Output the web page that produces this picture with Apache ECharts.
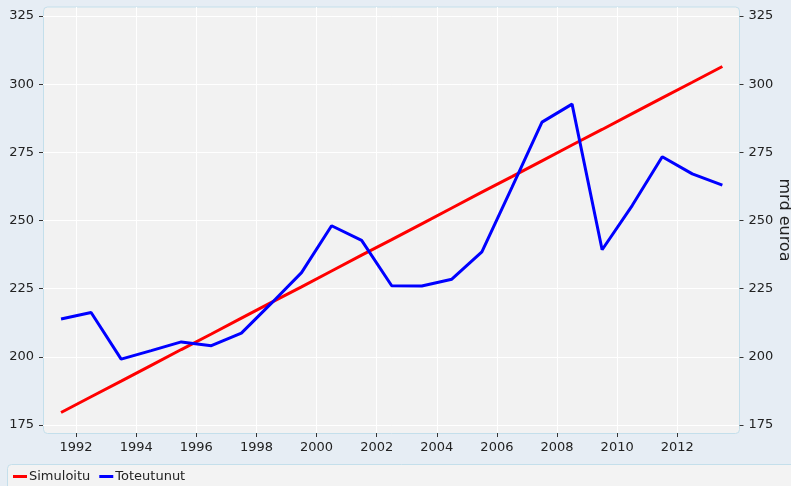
<!DOCTYPE html>
<html>
<head>
<meta charset="utf-8">
<script src="https://cdn.jsdelivr.net/npm/echarts@6/dist/echarts.min.js"></script>
<style>
  html, body { margin: 0; padding: 0; background: #e6edf4; }
  #chart { width: 791px; height: 486px; }
</style>
</head>
<body>
<div id="chart"></div>
<script>
// years are plotted mid-year
const years = [1991.5, 1992.5, 1993.5, 1994.5, 1995.5, 1996.5, 1997.5, 1998.5, 1999.5, 2000.5,
  2001.5, 2002.5, 2003.5, 2004.5, 2005.5, 2006.5, 2007.5, 2008.5, 2009.5, 2010.5,
  2011.5, 2012.5, 2013.5];
const simuloitu = [179.6, 185.4, 191.1, 196.9, 202.7, 208.4, 214.2, 220.0, 225.7, 231.5,
  237.3, 243.0, 248.8, 254.6, 260.4, 266.1, 271.9, 277.7, 283.4, 289.2,
  295.0, 300.7, 306.5];
const toteutunut = [213.9, 216.3, 199.2, 202.3, 205.5, 204.1, 208.7, 219.7, 230.9, 248.1,
  242.7, 226.1, 226.0, 228.5, 238.5, 262.2, 286.1, 292.7, 239.3, 255.5,
  273.4, 267.1, 263.0];
const xTicks = [1992, 1994, 1996, 1998, 2000, 2002, 2004, 2006, 2008, 2010, 2012];
const yTicks = [175, 200, 225, 250, 275, 300, 325];

const font = 'DejaVu Sans';
const myChart = echarts.init(document.getElementById('chart'));

const pair = (xs, ys) => xs.map((x, i) => [x, ys[i]]);

const yAxisBase = {
  type: 'value',
  min: 172.1,
  max: 328.3,
  axisLine: { show: false },
  axisTick: { show: true, length: 4, customValues: yTicks, lineStyle: { color: '#333' } },
  axisLabel: { customValues: yTicks, margin: 9, color: '#222', fontFamily: font, fontSize: 13 }
};

const option = {
  backgroundColor: '#e6edf4',
  animation: false,
  grid: { left: 43, right: 51.5, top: 7, bottom: 53, containLabel: false, outerBoundsMode: 'none' },
  graphic: [
    {
      type: 'rect', z: -1, silent: true,
      shape: { x: 43.5, y: 7, width: 696, height: 426.5, r: 4 },
      style: { fill: '#f2f2f2', stroke: '#c4dfeb', lineWidth: 1 }
    },
    {
      type: 'rect', z: -1, silent: true,
      shape: { x: 7.5, y: 464.5, width: 800, height: 40, r: 4 },
      style: { fill: '#f3f3f3', stroke: '#c4dfeb', lineWidth: 1 }
    }
  ],
  legend: {
    left: 13,
    top: 470,
    padding: 0,
    itemGap: 9,
    itemWidth: 14,
    itemHeight: 3,
    icon: 'rect',
    textStyle: { color: '#222', fontFamily: font, fontSize: 13, padding: [0, 0, 0, -3] },
    data: ['Simuloitu', 'Toteutunut']
  },
  xAxis: {
    type: 'value',
    min: 1990.9,
    max: 2014.07,
    axisLine: { show: false },
    axisTick: { show: true, length: 4, customValues: xTicks, lineStyle: { color: '#333' } },
    axisLabel: {
      customValues: xTicks, margin: 8, color: '#222', fontFamily: font, fontSize: 13,
      formatter: (v) => String(v)
    },
    splitLine: { show: true, lineStyle: { color: '#ffffff', width: 1 } }
  },
  yAxis: [
    Object.assign({}, yAxisBase, {
      position: 'left',
      splitLine: { show: true, lineStyle: { color: '#ffffff', width: 1 } }
    }),
    Object.assign({}, yAxisBase, {
      position: 'right',
      splitLine: { show: false },
      name: 'mrd euroa',
      nameLocation: 'middle',
      nameRotate: -90,
      nameGap: 37,
      nameMoveOverlap: false,
      nameTextStyle: { color: '#222', fontFamily: font, fontSize: 16 }
    })
  ],
  series: [
    {
      name: 'Simuloitu',
      type: 'line',
      data: pair(years, simuloitu),
      showSymbol: false,
      symbol: 'none',
      lineStyle: { color: '#ff0000', width: 3 },
      itemStyle: { color: '#ff0000' }
    },
    {
      name: 'Toteutunut',
      type: 'line',
      data: pair(years, toteutunut),
      showSymbol: false,
      symbol: 'none',
      lineStyle: { color: '#0000ff', width: 3 },
      itemStyle: { color: '#0000ff' }
    }
  ]
};
myChart.setOption(option);
</script>
</body>
</html>
